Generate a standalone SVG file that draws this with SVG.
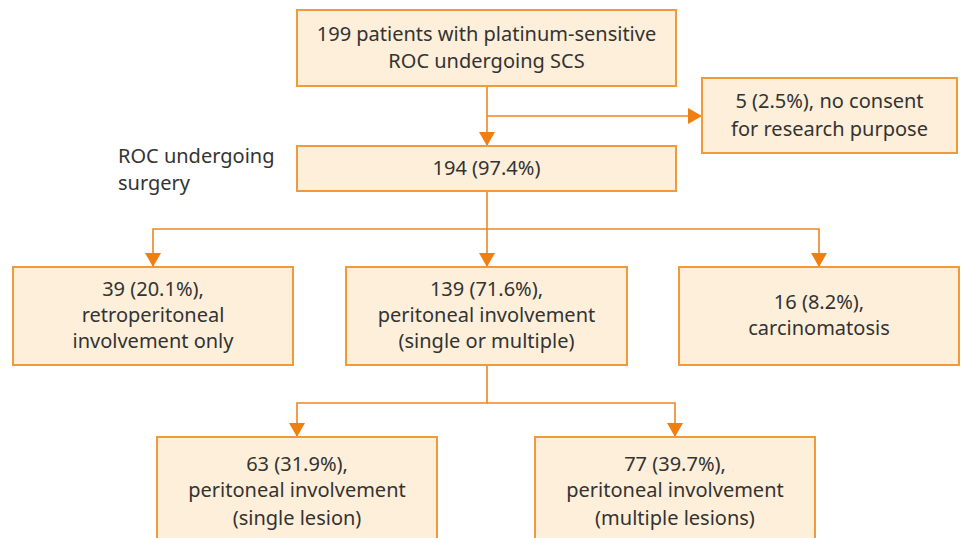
<svg xmlns="http://www.w3.org/2000/svg" width="961" height="538" viewBox="0 0 961 538">
<style>
.box{fill:#FDEFD9;stroke:#F2993A;stroke-width:2}
.t{font-family:"Noto Sans","Liberation Sans",sans-serif;font-size:20px;fill:#333;text-anchor:middle}
.l{font-family:"Noto Sans","Liberation Sans",sans-serif;font-size:20px;fill:#333}
.c{fill:none;stroke:#F08520;stroke-width:1.6}
</style>
<defs>
<marker id="a" viewBox="0 0 14 16" refX="14" refY="8" markerWidth="14" markerHeight="16" markerUnits="userSpaceOnUse" orient="auto"><path d="M0,0 L14,8 L0,16 Z" fill="#F07F12"/></marker>
</defs>
<rect width="961" height="538" fill="#fff"/>
<g id="connectors">
<path class="c" d="M487,86 V146" marker-end="url(#a)"/>
<path class="c" d="M487,116 H702" marker-end="url(#a)"/>
<path class="c" d="M487,191 V267" marker-end="url(#a)"/>
<path class="c" d="M487,229 H153 V267" marker-end="url(#a)"/>
<path class="c" d="M487,229 H819 V267" marker-end="url(#a)"/>
<path class="c" d="M487,365 V403 H297 V437" marker-end="url(#a)"/>
<path class="c" d="M487,403 H675 V437" marker-end="url(#a)"/>
</g>
<g id="n1"><rect class="box" x="297" y="10" width="379" height="76"/>
<text class="t" x="486.5" y="41">199 patients with platinum-sensitive</text>
<text class="t" x="486.5" y="68">ROC undergoing SCS</text></g>
<g id="n2"><rect class="box" x="702" y="78" width="255" height="75"/>
<text class="t" x="829.5" y="108">5 (2.5%), no consent</text>
<text class="t" x="829.5" y="136">for research purpose</text></g>
<g id="label"><text class="l" x="118" y="163">ROC undergoing</text>
<text class="l" x="118" y="190">surgery</text></g>
<g id="n3"><rect class="box" x="297" y="146" width="379" height="45"/>
<text class="t" x="486.5" y="175">194 (97.4%)</text></g>
<g id="n4"><rect class="box" x="13" y="267" width="280" height="98"/>
<text class="t" x="153" y="296">39 (20.1%),</text>
<text class="t" x="153" y="322">retroperitoneal</text>
<text class="t" x="153" y="348">involvement only</text></g>
<g id="n5"><rect class="box" x="346" y="267" width="281" height="98"/>
<text class="t" x="486.5" y="296">139 (71.6%),</text>
<text class="t" x="486.5" y="322">peritoneal involvement</text>
<text class="t" x="486.5" y="348">(single or multiple)</text></g>
<g id="n6"><rect class="box" x="679" y="267" width="280" height="98"/>
<text class="t" x="819" y="309">16 (8.2%),</text>
<text class="t" x="819" y="335">carcinomatosis</text></g>
<g id="n7"><rect class="box" x="157" y="437" width="280" height="110"/>
<text class="t" x="297" y="471">63 (31.9%),</text>
<text class="t" x="297" y="497">peritoneal involvement</text>
<text class="t" x="297" y="525">(single lesion)</text></g>
<g id="n8"><rect class="box" x="535" y="437" width="280" height="110"/>
<text class="t" x="675" y="471">77 (39.7%),</text>
<text class="t" x="675" y="497">peritoneal involvement</text>
<text class="t" x="675" y="525">(multiple lesions)</text></g>
</svg>
